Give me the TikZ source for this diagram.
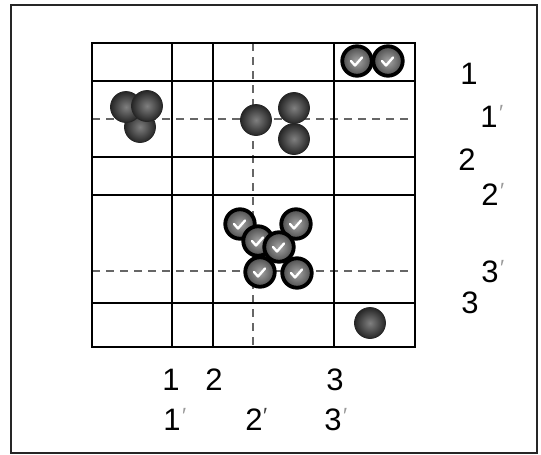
\documentclass[tikz,border=0pt]{standalone}
\usepackage{fontspec}
\setmainfont{Liberation Sans}
\begin{document}
\begin{tikzpicture}[x=1pt,y=-1pt,
  frameline/.style={draw=black!85, line width=1.4pt},
  gridline/.style={draw=black, line width=2.1pt},
  dashline/.style={draw=black!60, line width=1.4pt, dash pattern=on 8pt off 6pt},
  plainball/.style={circle, minimum size=31pt, inner sep=0pt, inner color=black!50, outer color=black!85, draw=black!85, line width=0.8pt},
  chkball/.style={circle, minimum size=29.5pt, inner sep=0pt, inner color=black!35, outer color=black!70, draw=black, line width=3.8pt,
    path picture={\draw[white, line width=2.4pt, line cap=round, line join=round]
      ([xshift=-6pt,yshift=0pt]path picture bounding box.center) -- ++(4,4.5) -- ++(7,-8);}},
  lbl/.style={font=\fontsize{31}{34}\selectfont, inner sep=0pt},
  prm/.style={font=\fontsize{22}{24}\selectfont, text=black!40, inner sep=0pt},
]
\useasboundingbox (0,0) rectangle (541,455);
\draw[frameline] (11,5) rectangle (537,453);
% dashed guide lines
\draw[dashline] (253,43) -- (253,347);
\draw[dashline] (92,119) -- (415,119);
\draw[dashline] (92,271) -- (415,271);
% grid
\draw[gridline] (92,43) rectangle (415,347);
\foreach \x in {172,213,334} \draw[gridline] (\x,43) -- (\x,347);
\foreach \y in {81,157,195,303} \draw[gridline] (92,\y) -- (415,\y);
% plain balls
\node[plainball] (a3) at (140,127) {};
\node[plainball] (a1) at (126,107) {};
\node[plainball] (a2) at (147,106) {};
\node[plainball] (b1) at (256,120) {};
\node[plainball] (b2) at (294,108) {};
\node[plainball] (b3) at (294,139) {};
\node[plainball] (c1) at (370,323) {};
% checked balls
\node[chkball] (t1) at (357,61) {};
\node[chkball] (t2) at (388,61) {};
\node[chkball] (k1) at (240,224) {};
\node[chkball] (k2) at (296,224) {};
\node[chkball] (k3) at (258,241) {};
\node[chkball] (k4) at (279,247) {};
\node[chkball] (k5) at (260,272) {};
\node[chkball] (k6) at (297,273) {};
% labels right
\node[lbl] (r1) at (469,74) {1};
\node[lbl] (r1p) at (489,117) {1};
\node[lbl] (r2) at (467,160) {2};
\node[lbl] (r2p) at (490,195) {2};
\node[lbl] (r3p) at (490,272) {3};
\node[lbl] (r3) at (470,303) {3};
% labels bottom
\node[lbl] (x1) at (171,380) {1};
\node[lbl] (x2) at (214,380) {2};
\node[lbl] (x3) at (335,380) {3};
\node[lbl] (x1p) at (172,420) {1};
\node[lbl] (x2p) at (254,420) {2};
\node[lbl] (x3p) at (333,420) {3};
% primes
\foreach \n in {r1p,r2p,r3p,x1p,x3p}
  \node[prm, anchor=north west] at ([xshift=1pt,yshift=1pt]\n.north east) {′};
\node[prm, anchor=north west, text=black!75] at ([xshift=0pt,yshift=1pt]x2p.north east) {′};
\end{tikzpicture}
\end{document}
